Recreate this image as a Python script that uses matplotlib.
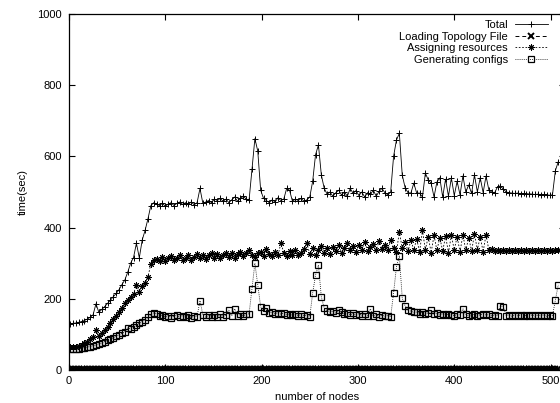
import numpy as np
import matplotlib
matplotlib.use('Agg')
import matplotlib.pyplot as plt

plt.rcParams['font.family'] = ['Liberation Sans', 'DejaVu Sans']

# number of nodes (every 3rd run shown)
nodes = np.arange(1, 509, 3)

# Total
total = [
    130, 131, 132, 134, 136, 139, 143, 148, 155, 186,   # 1..28
    162, 170, 178, 187, 196, 206, 215, 226, 240, 253,   # 31..58
    275, 300, 316, 356, 315, 365, 392, 425, 462, 470,   # 61..88
    466, 462, 468, 460, 466, 470, 462, 468, 472, 465,   # 91..118
    470, 466, 472, 464, 470, 510, 468, 472, 476, 470,   # 121..148
    480, 476, 482, 474, 480, 470, 478, 486, 474, 482,   # 151..178
    488, 480, 478, 565, 650, 615, 505, 482, 476, 470,   # 181..208
    478, 472, 484, 476, 480, 510, 505, 474, 480, 476,   # 211..238
    482, 474, 478, 486, 530, 605, 632, 548, 510, 494,   # 241..268
    500, 488, 498, 505, 492, 500, 488, 510, 496, 504,   # 271..298
    490, 500, 486, 498, 494, 505, 488, 502, 510, 498,   # 301..328
    492, 500, 600, 646, 665, 548, 512, 498, 497, 525,   # 331..358
    497, 497, 486, 553, 534, 525, 486, 528, 540, 486,   # 361..388
    536, 488, 540, 490, 530, 492, 545, 500, 520, 496,   # 391..418
    548, 500, 540, 498, 545, 505, 500, 498, 515, 517,   # 421..448
    508, 500, 498, 497, 496, 497, 495, 496, 494, 495,   # 451..478
    494, 493, 494, 492, 493, 492, 491, 492, 560, 585,   # 481..508
]

# Loading Topology File
loading = [
    2, 3, 2, 3, 3, 2, 3, 2, 3, 3,
    2, 3, 3, 2, 3, 3, 2, 3, 3, 2,
    3, 3, 2, 3, 3, 2, 3, 3, 3, 2,
    3, 3, 2, 3, 3, 3, 2, 3, 3, 2,
    3, 3, 3, 2, 3, 3, 2, 3, 3, 3,
    2, 3, 3, 3, 2, 3, 3, 2, 3, 3,
    3, 2, 3, 3, 3, 2, 3, 3, 2, 3,
    3, 3, 2, 3, 3, 2, 3, 3, 3, 2,
    3, 3, 2, 3, 3, 3, 2, 3, 3, 2,
    3, 3, 3, 2, 3, 3, 2, 3, 3, 3,
    2, 3, 3, 2, 3, 3, 3, 2, 3, 3,
    2, 3, 3, 3, 2, 3, 3, 2, 3, 3,
    3, 2, 3, 3, 2, 3, 3, 3, 2, 3,
    3, 2, 3, 3, 3, 2, 3, 3, 2, 3,
    3, 3, 2, 3, 3, 2, 3, 3, 3, 2,
    3, 3, 2, 3, 3, 3, 2, 3, 3, 2,
    3, 3, 3, 2, 3, 3, 2, 3, 3, 3,
]

# Assigning resources
assigning = [
    64, 65, 66, 68, 71, 75, 80, 86, 93, 112,
    96, 104, 113, 121, 131, 142, 152, 163, 175, 187,
    196, 205, 214, 239, 220, 235, 245, 262, 298, 308,
    312, 305, 318, 306, 314, 320, 308, 316, 322, 310,
    315, 324, 310, 318, 327, 314, 322, 312, 324, 328,
    316, 326, 314, 324, 330, 318, 328, 316, 326, 332,
    320, 330, 338, 322, 318, 328, 332, 320, 340, 326,
    320, 332, 322, 356, 330, 320, 334, 324, 338, 322,
    330, 340, 356, 326, 342, 322, 336, 348, 330, 342,
    326, 346, 334, 352, 330, 344, 358, 336, 348, 332,
    350, 338, 360, 334, 346, 354, 336, 362, 340, 352,
    336, 364, 344, 332, 388, 342, 360, 334, 364, 338,
    368, 332, 392, 338, 374, 330, 378, 336, 372, 334,
    376, 330, 378, 338, 374, 332, 380, 336, 372, 334,
    382, 338, 374, 332, 380, 336, 340, 335, 337, 334,
    337, 334, 337, 335, 338, 334, 336, 333, 337, 335,
    337, 334, 336, 333, 337, 334, 336, 333, 336, 337,
]

# Generating configs
generating = [
    60, 59, 59, 60, 61, 62, 64, 66, 68, 70,
    73, 76, 80, 83, 87, 91, 95, 99, 103, 107,
    118, 116, 121, 126, 131, 136, 141, 148, 156, 160,
    158, 152, 155, 148, 153, 147, 152, 155, 148, 153,
    149, 154, 147, 153, 150, 195, 154, 148, 155, 150,
    154, 148, 156, 150, 155, 168, 153, 172, 152, 157,
    152, 156, 158, 228, 300, 240, 178, 165, 174, 160,
    162, 158, 161, 157, 160, 155, 158, 154, 157, 153,
    156, 152, 155, 150, 216, 267, 295, 205, 174, 166,
    163, 165, 160, 168, 162, 157, 160, 155, 159, 154,
    158, 153, 157, 152, 172, 151, 156, 150, 154, 151,
    153, 150, 216, 290, 320, 202, 180, 168, 165, 162,
    163, 158, 162, 157, 161, 168, 156, 159, 155, 158,
    154, 157, 155, 152, 157, 154, 172, 156, 152, 155,
    156, 152, 155, 158, 154, 156, 152, 155, 152, 180,
    178, 153, 155, 151, 154, 152, 155, 151, 154, 152,
    155, 151, 154, 152, 155, 151, 154, 152, 197, 239,
]

fig = plt.figure(figsize=(5.6, 4.03), dpi=100)
ax = fig.add_axes([69 / 560, 33 / 403, 496 / 560, 356 / 403])

ax.plot(nodes, total, color='black', lw=0.6, marker='+', ms=4.5, mew=0.7,
        label='Total')
ax.plot(nodes, loading, color='black', lw=0.7, ls=(0, (4, 3)), marker='x',
        ms=4, mew=1.4, label='Loading Topology File')
ax.plot(nodes, assigning, color='black', lw=0.6, ls=(0, (2, 2)),
        marker=(8, 2, 0), ms=4.5, mew=0.7, label='Assigning resources')
ax.plot(nodes, generating, color='black', lw=0.6, ls=(0, (1, 1.5)),
        marker='s', ms=3.8, mfc='none', mew=0.9, label='Generating configs')

ax.set_xlim(0, 515)
ax.set_ylim(0, 1000)
ax.set_xticks([0, 100, 200, 300, 400, 500])
ax.set_yticks([0, 200, 400, 600, 800, 1000])
ax.tick_params(direction='in', top=True, right=True, length=4, width=0.8,
               labelsize=8, pad=5)
ax.tick_params(axis='x', pad=4)
for s in ax.spines.values():
    s.set_linewidth(0.9)

ax.set_xlabel('number of nodes', fontsize=8, labelpad=5)
ax.set_ylabel('time(sec)', fontsize=8, labelpad=7)

leg = ax.legend(loc='upper right', bbox_to_anchor=(548 / 560, 1 - 20 / 403),
                bbox_transform=fig.transFigure, frameon=False,
                markerfirst=False, numpoints=1, fontsize=8,
                handlelength=3.0, handletextpad=0.6, labelspacing=0.15,
                borderpad=0, borderaxespad=0)

fig.savefig('out.png', dpi=100)
